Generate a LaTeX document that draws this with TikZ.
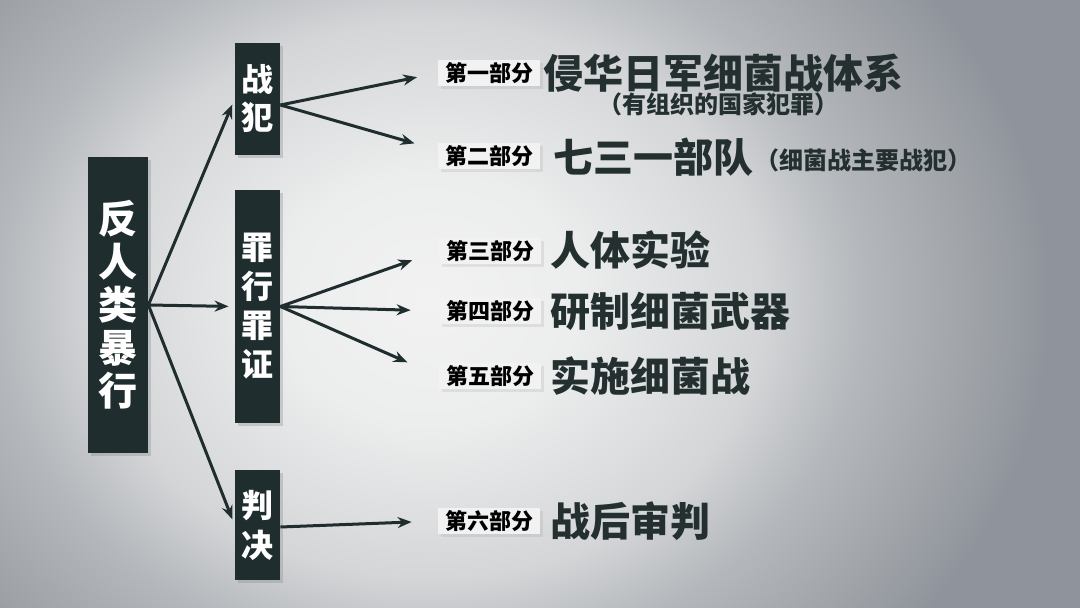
\documentclass[tikz,border=0pt]{standalone}
\usepackage{fontspec}
\newfontfamily\cjk{Noto Sans CJK SC}
\usepackage{tikz}
\usetikzlibrary{arrows.meta,positioning,shadows}
\usepackage{xcolor}
\definecolor{slate}{HTML}{1F2D2E}
\definecolor{ink}{HTML}{243030}
\definecolor{tagbg}{HTML}{F2F2F2}
\definecolor{glow}{HTML}{F2F2F2}
\definecolor{pale}{HTML}{ECEDED}
\definecolor{mist}{HTML}{D3D5D7}
\definecolor{haze}{HTML}{B4B7BB}
\definecolor{dusk}{HTML}{9FA3A8}
\definecolor{steel}{HTML}{8F949C}
\pgfdeclareradialshading{bgglow}{\pgfpoint{0bp}{0bp}}{color(0bp)=(glow); color(6bp)=(pale); color(13.5bp)=(mist); color(17.5bp)=(haze); color(22bp)=(dusk); color(25bp)=(steel); color(50bp)=(steel)}

\tikzset{
  darkbox/.style={fill=slate, text=white, inner sep=0pt, align=center,
    drop shadow={shadow xshift=1.5pt, shadow yshift=-1.5pt, opacity=0.3}},
  parttag/.style={fill=tagbg, text=black, inner sep=0pt, minimum width=51pt, minimum height=13pt,
    font=\cjk\bfseries\fontsize{11}{13}\selectfont,
    drop shadow={shadow xshift=1.5pt, shadow yshift=-1.5pt, opacity=0.15}},
  title/.style={anchor=west, text=ink, inner sep=0pt, font=\cjk\bfseries\fontsize{20}{22}\selectfont},
  note/.style={text=ink, inner sep=0pt, font=\cjk\bfseries\fontsize{12}{14}\selectfont},
  link/.style={->, line width=1.5pt, draw=slate}
}

\begin{document}
\begin{tikzpicture}[x=0.5pt, y=-0.5pt, >={Stealth[length=7pt, width=5.5pt]}]
  % background
  \fill[steel] (0,0) rectangle (1080,608);
  \begin{scope}
    \clip (0,0) rectangle (1080,608);
    \shade[shading=bgglow] (430,300) ellipse (620 and 520);
  \end{scope}
  \useasboundingbox (0,0) rectangle (1080,608);

  % main box
  \node[darkbox, minimum width=30pt, minimum height=148pt,
    font=\cjk\bfseries\fontsize{19.5}{21.5}\selectfont] (anti) at (118,305) {反\\人\\类\\暴\\行};

  % second column
  \node[darkbox, minimum width=22.5pt, minimum height=56pt,
    font=\cjk\bfseries\fontsize{16}{19}\selectfont] (warcrim) at (257.5,99) {战\\犯};
  \node[darkbox, minimum width=22.5pt, minimum height=116.5pt,
    font=\cjk\bfseries\fontsize{16}{19.5}\selectfont] (crimes) at (257.5,306.5) {罪\\行\\罪\\证};
  \node[darkbox, minimum width=22.5pt, minimum height=55pt,
    font=\cjk\bfseries\fontsize{16}{20}\selectfont] (verdict) at (257.5,525) {判\\决};

  % part tags
  \node[parttag] (p1) at (489,73) {第一部分};
  \node[parttag] (p2) at (489,156) {第二部分};
  \node[parttag] (p3) at (490,251) {第三部分};
  \node[parttag] (p4) at (490,311) {第四部分};
  \node[parttag] (p5) at (490,376) {第五部分};
  \node[parttag] (p6) at (489,521) {第六部分};

  % titles
  \node[title] (t1) at (543,73) {侵华日军细菌战体系};
  \node[note] (n1) at (718,104) {（有组织的国家犯罪）};
  \node[title] (t2) at (553,157) {七三一部队};
  \node[note, anchor=west] (n2) at (755,160) {（细菌战主要战犯）};
  \node[title] (t3) at (550,250) {人体实验};
  \node[title] (t4) at (550,311) {研制细菌武器};
  \node[title] (t5) at (550,376) {实施细菌战};
  \node[title] (t6) at (550,521) {战后审判};

  % arrows
  \draw[link, shorten >=3pt] (anti.east) -- (warcrim.west);
  \draw[link, shorten >=3pt] (anti.east) -- (crimes.west);
  \draw[link, shorten >=3pt] (anti.east) -- (verdict.west);

  \draw[link, shorten >=10.5pt] ([yshift=-3pt]warcrim.east) -- (p1.west);
  \draw[link, shorten >=12pt] ([yshift=-3pt]warcrim.east) -- ([yshift=3pt]p2.west);
  \draw[link, shorten >=14pt] (crimes.east) -- (p3.west);
  \draw[link, shorten >=14pt] (crimes.east) -- (p4.west);
  \draw[link, shorten >=17pt] (crimes.east) -- (p5.west);
  \draw[link, shorten >=13pt] ([yshift=-1pt]verdict.east) -- (p6.west);
\end{tikzpicture}
\end{document}
